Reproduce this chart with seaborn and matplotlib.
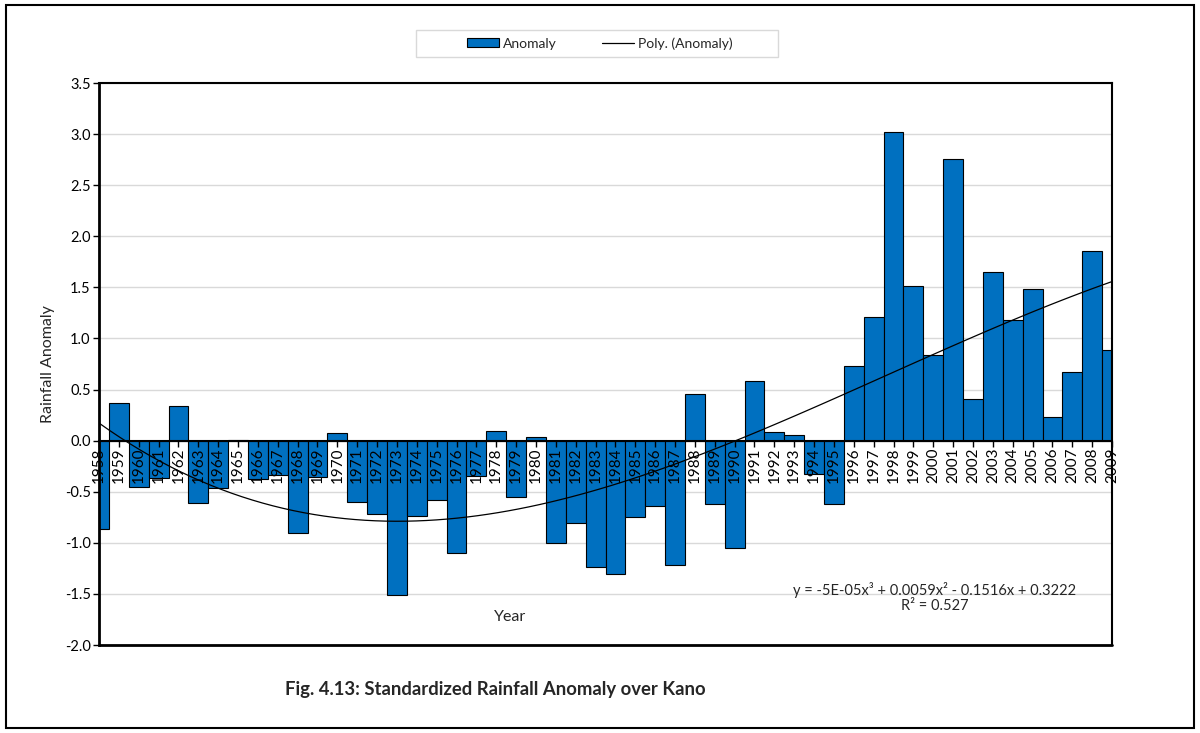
import numpy as np
import matplotlib
matplotlib.use("Agg")
import matplotlib.pyplot as plt
from matplotlib.patches import Patch, Rectangle
from matplotlib.lines import Line2D
from matplotlib.ticker import FormatStrFormatter, MultipleLocator
import seaborn as sns

# Standardized rainfall anomaly, Kano
years = list(range(1958, 2010))
anomaly = [
    -0.86, 0.37, -0.45, -0.37, 0.34, -0.61, -0.46, 0.01, -0.38, -0.34,   # 1958-1967
    -0.90, -0.36, 0.07, -0.60, -0.72, -1.51, -0.74, -0.58, -1.10, -0.35,  # 1968-1977
    0.09, -0.55, 0.04, -1.00, -0.81, -1.24, -1.31, -0.75, -0.64, -1.22,   # 1978-1987
    0.46, -0.62, -1.05, 0.58, 0.08, 0.06, -0.33, -0.62, 0.73, 1.21,       # 1988-1997
    3.02, 1.51, 0.84, 2.76, 0.41, 1.65, 1.18, 1.48, 0.23, 0.67,           # 1998-2007
    1.86, 0.89,                                                            # 2008-2009
]
equation = "y = -5E-05x³ + 0.0059x² - 0.1516x + 0.3222"
r_squared = "R² = 0.527"

bar_color = "#0070C0"

sns.set_theme(style="white")
plt.rcParams["font.family"] = ["Lato", "DejaVu Sans"]
plt.rcParams["axes.unicode_minus"] = False

fig = plt.figure(figsize=(12, 7.33), dpi=100)
ax = fig.add_axes([0.0825, 0.12005, 0.8442, 0.7667])

# bars, no gap between them
sns.barplot(x=years, y=anomaly, color=bar_color, width=1.0, saturation=1,
            edgecolor="black", linewidth=0.8, ax=ax)

# 3rd order polynomial trend over the year index
sns.regplot(x=np.arange(len(years)), y=anomaly, order=3, ci=None, scatter=False,
            truncate=True, line_kws=dict(color="black", lw=0.9, zorder=6), ax=ax)

ax.set_xlim(0, len(years) - 1)
ax.set_ylim(-2.0, 3.5)
ax.yaxis.set_major_locator(MultipleLocator(0.5))
ax.yaxis.set_major_formatter(FormatStrFormatter("%.1f"))
ax.grid(axis="y", color="#D9D9D9", lw=1)
ax.set_axisbelow(True)
ax.xaxis.set_zorder(5)  # year labels sit on top of the bars

# x axis crosses at zero, labels hang below it
ax.spines["bottom"].set_position(("data", 0))
ax.spines["bottom"].set_linewidth(1.5)
ax.spines["bottom"].set_zorder(5)
ax.spines["left"].set_linewidth(2)
ax.spines["top"].set_linewidth(1.5)
ax.spines["right"].set_linewidth(1.5)
for s in ax.spines.values():
    s.set_color("black")
ax.axhline(-2.0, color="black", lw=2, clip_on=False, zorder=5)

ax.tick_params(axis="x", direction="out", length=4, width=1, pad=1,
               labelsize=11, labelrotation=90, colors="black", bottom=True)
ax.tick_params(axis="y", direction="out", length=4, width=1, pad=2,
               labelsize=10.5, colors="black", left=True)

ax.set_xlabel("Year", fontsize=11.5)
ax.xaxis.set_label_coords(0.406, 0.062)
ax.set_ylabel("Rainfall Anomaly", fontsize=11.5, labelpad=7)

ax.text(0.825, 0.097, equation, transform=ax.transAxes, ha="center",
        va="center", fontsize=10.5)
ax.text(0.825, 0.069, r_squared, transform=ax.transAxes, ha="center",
        va="center", fontsize=10.5)

handles = [
    Patch(facecolor=bar_color, edgecolor="black", lw=0.8, label="Anomaly"),
    Line2D([0], [0], color="black", lw=0.9, label="Poly. (Anomaly)"),
]
fig.legend(handles=handles, loc="center", bbox_to_anchor=(0.5, 0.9407),
           ncol=2, frameon=False, fontsize=10,
           handlelength=2.3, handleheight=0.6, handletextpad=0.25,
           columnspacing=3.3)
# legend box drawn separately so it can be wider than its entries
fig.patches.append(Rectangle((0.3467, 0.9222), 0.3017, 0.0368, transform=fig.transFigure,
                             fill=False, edgecolor="#D9D9D9", lw=1))

fig.text(0.413, 0.0587, "Fig. 4.13: Standardized Rainfall Anomaly over Kano",
         ha="center", va="center", fontsize=13.3, fontweight="bold")

fig.patches.append(Rectangle((0.005, 0.007), 0.99, 0.986, transform=fig.transFigure,
                             fill=False, edgecolor="black", lw=1.5))

fig.savefig("out.png", dpi=100)
